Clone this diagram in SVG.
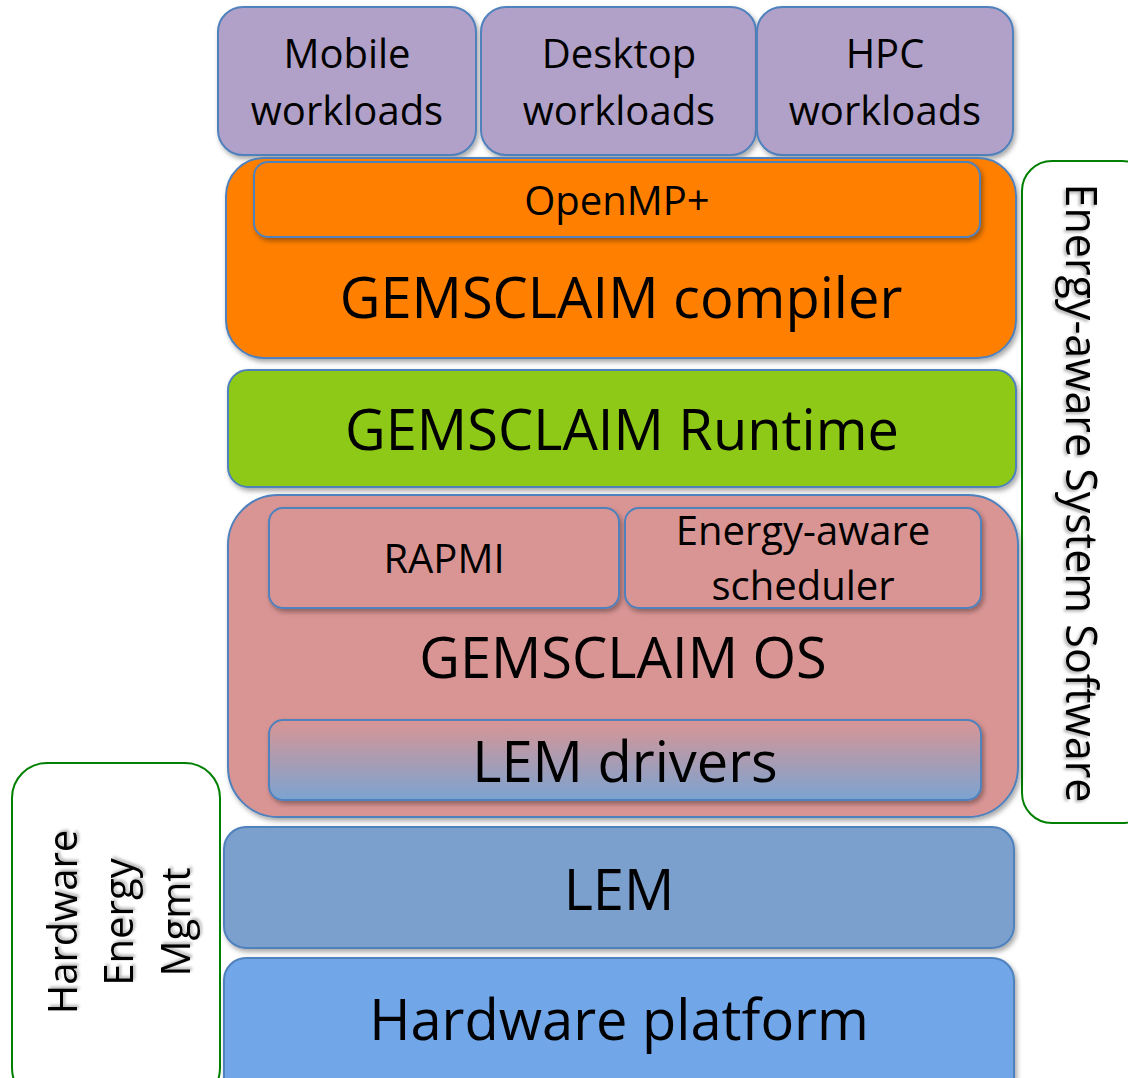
<svg xmlns="http://www.w3.org/2000/svg" width="1128" height="1078" viewBox="0 0 1128 1078">
<defs>
<filter id="sh" x="-10%" y="-10%" width="120%" height="130%">
<feDropShadow dx="2" dy="3" stdDeviation="2.5" flood-color="#000" flood-opacity="0.35"/>
</filter>
<filter id="tsh" x="-10%" y="-10%" width="120%" height="120%">
<feDropShadow dx="2" dy="2" stdDeviation="1.5" flood-color="#000" flood-opacity="0.3"/>
</filter>
<linearGradient id="lemg" x1="0" y1="0" x2="0" y2="1">
<stop offset="0" stop-color="#D99594"/>
<stop offset="1" stop-color="#7BA3D1"/>
</linearGradient>
</defs>
<style>
.box{stroke:#4F81BD;stroke-width:2;filter:url(#sh)}
.grn{fill:#FFFFFF;stroke:#008000;stroke-width:2}
text{font-family:"Open Sans","Noto Sans","DejaVu Sans",sans-serif;fill:#000;text-anchor:middle}
.s40{font-size:40px}
.s56{font-size:56px}
.rot{font-size:40px;filter:url(#tsh)}
</style>
<rect width="1128" height="1078" fill="#FFFFFF"/>

<g id="energy-aware-system-software">
<rect class="grn" x="1022" y="161" width="130" height="662" rx="30"/>
<text class="rot" transform="translate(1066,493) rotate(90)" style="font-size:43px">Energy-aware System Software</text>
</g>

<g id="hardware-energy-mgmt">
<rect class="grn" x="12" y="763" width="208" height="340" rx="35"/>
<text class="rot" transform="translate(77,922) rotate(-90)">Hardware</text>
<text class="rot" transform="translate(133,922) rotate(-90)">Energy</text>
<text class="rot" transform="translate(190,922) rotate(-90)">Mgmt</text>
</g>

<g id="mobile-workloads">
<rect class="box" x="218" y="7" width="258" height="148" rx="25" fill="#B1A0C7"/>
<text class="s40" x="347" y="68">Mobile</text>
<text class="s40" x="347" y="125">workloads</text>
</g>
<g id="desktop-workloads">
<rect class="box" x="481" y="7" width="275" height="148" rx="25" fill="#B1A0C7"/>
<text class="s40" x="619" y="68">Desktop</text>
<text class="s40" x="619" y="125">workloads</text>
</g>
<g id="hpc-workloads">
<rect class="box" x="757" y="7" width="256" height="148" rx="25" fill="#B1A0C7"/>
<text class="s40" x="885" y="68">HPC</text>
<text class="s40" x="885" y="125">workloads</text>
</g>

<g id="gemsclaim-compiler">
<rect class="box" x="226" y="158" width="790" height="200" rx="38" fill="#FF8000"/>
<text class="s56" x="621" y="318">GEMSCLAIM compiler</text>
</g>
<g id="openmp">
<rect class="box" x="254" y="162" width="726" height="75" rx="14" fill="#FF8000"/>
<text class="s40" x="617" y="215">OpenMP+</text>
</g>

<g id="gemsclaim-runtime">
<rect class="box" x="228" y="370" width="788" height="117" rx="20" fill="#8DC914"/>
<text class="s56" x="622" y="450">GEMSCLAIM Runtime</text>
</g>

<g id="gemsclaim-os">
<rect class="box" x="228" y="495" width="790" height="322" rx="50" fill="#D99594"/>
<text class="s56" x="623" y="678">GEMSCLAIM OS</text>
</g>
<g id="rapmi">
<rect class="box" x="269" y="508" width="350" height="100" rx="14" fill="#D99594"/>
<text class="s40" x="444" y="573">RAPMI</text>
</g>
<g id="energy-aware-scheduler">
<rect class="box" x="625" y="508" width="356" height="100" rx="14" fill="#D99594"/>
<text class="s40" x="803" y="545">Energy-aware</text>
<text class="s40" x="803" y="600">scheduler</text>
</g>
<g id="lem-drivers">
<rect class="box" x="269" y="720" width="712" height="80" rx="14" fill="url(#lemg)"/>
<text class="s56" x="625" y="782">LEM drivers</text>
</g>

<g id="lem">
<rect class="box" x="224" y="827" width="790" height="121" rx="22" fill="#7BA0CD"/>
<text class="s56" x="619" y="910">LEM</text>
</g>
<g id="hardware-platform">
<rect class="box" x="224" y="958" width="790" height="150" rx="22" fill="#71A6E8"/>
<text class="s56" x="619" y="1040">Hardware platform</text>
</g>

<g id="connectors"></g>
</svg>
